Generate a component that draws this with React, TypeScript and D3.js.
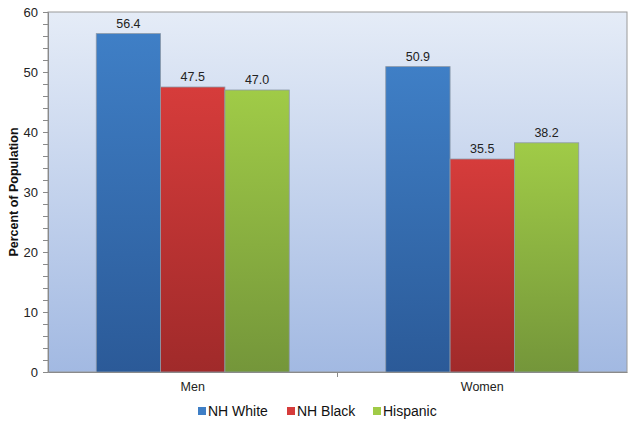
import * as d3 from "d3";
import { useEffect, useRef } from "react";

const categories = ["Men", "Women"];
const seriesNames = ["NH White", "NH Black", "Hispanic"];
const nhWhite = [56.4, 50.9];
const nhBlack = [47.5, 35.5];
const hispanic = [47.0, 38.2];
const yTicks = [0, 10, 20, 30, 40, 50, 60];

const seriesValues = [nhWhite, nhBlack, hispanic];
const colors = [
  ["#3f7fc6", "#2b5a98"],
  ["#d63c3b", "#a02a2a"],
  ["#a0cb47", "#74963a"],
];

export default function App() {
  const ref = useRef<SVGSVGElement>(null);
  const width = 636;
  const height = 428;
  const m = { left: 48, right: 9, top: 12, bottom: 56 };

  useEffect(() => {
    const svg = d3.select(ref.current);
    svg.selectAll("*").remove();
    const font = "'Liberation Sans', Arial, sans-serif";

    const defs = svg.append("defs");
    const bg = defs
      .append("linearGradient")
      .attr("id", "bg")
      .attr("x1", 0)
      .attr("y1", 0)
      .attr("x2", 0)
      .attr("y2", 1);
    bg.append("stop").attr("offset", "0%").attr("stop-color", "#e5ecf7");
    bg.append("stop").attr("offset", "100%").attr("stop-color", "#a2b9e2");
    colors.forEach((c, i) => {
      const g = defs
        .append("linearGradient")
        .attr("id", "bar" + i)
        .attr("x1", 0)
        .attr("y1", 0)
        .attr("x2", 0)
        .attr("y2", 1);
      g.append("stop").attr("offset", "0%").attr("stop-color", c[0]);
      g.append("stop").attr("offset", "100%").attr("stop-color", c[1]);
    });

    const x0 = d3
      .scaleBand()
      .domain(categories)
      .range([m.left, width - m.right]);
    const x1 = d3
      .scaleBand()
      .domain(seriesNames)
      .range([0, x0.bandwidth()])
      .paddingOuter(0.75);
    const y = d3
      .scaleLinear()
      .domain([0, 60])
      .range([height - m.bottom, m.top]);

    // plot background
    svg
      .append("rect")
      .attr("x", m.left)
      .attr("y", m.top)
      .attr("width", width - m.left - m.right)
      .attr("height", height - m.top - m.bottom)
      .attr("fill", "url(#bg)")
      .attr("stroke", "#9a9a9a")
      .attr("stroke-width", 1);

    // bars
    seriesNames.forEach((s, i) => {
      svg
        .append("g")
        .selectAll("rect")
        .data(seriesValues[i])
        .join("rect")
        .attr("x", (d, j) => x0(categories[j])! + x1(s)!)
        .attr("y", (d) => y(d))
        .attr("width", x1.bandwidth())
        .attr("height", (d) => y(0) - y(d))
        .attr("fill", "url(#bar" + i + ")")
        .attr("stroke", "#8d99a8")
        .attr("stroke-width", 0.8);

      svg
        .append("g")
        .selectAll("text")
        .data(seriesValues[i])
        .join("text")
        .attr("x", (d, j) => x0(categories[j])! + x1(s)! + x1.bandwidth() / 2)
        .attr("y", (d) => y(d) - 6)
        .attr("text-anchor", "middle")
        .attr("font-family", font)
        .attr("font-size", 12.5)
        .attr("fill", "#222")
        .text((d) => d3.format(".1f")(d));
    });

    // y axis
    const yAxis = svg
      .append("g")
      .attr("transform", `translate(${m.left},0)`)
      .call(
        d3
          .axisLeft(y)
          .tickValues(d3.range(0, 61, 2))
          .tickSize(5)
          .tickFormat((d) => (yTicks.includes(+d) ? String(d) : ""))
      );
    yAxis.select(".domain").attr("stroke", "#8a8a8a");
    yAxis.selectAll(".tick line").attr("stroke", "#8a8a8a");
    yAxis
      .selectAll(".tick text")
      .attr("font-family", font)
      .attr("font-size", 13)
      .attr("fill", "#222")
      .attr("x", -10);

    // x axis
    const xAxis = svg
      .append("g")
      .attr("transform", `translate(0,${height - m.bottom})`)
      .call(d3.axisBottom(x0).tickSize(0).tickPadding(10));
    xAxis.select(".domain").attr("stroke", "#8a8a8a");
    xAxis
      .selectAll(".tick text")
      .attr("font-family", font)
      .attr("font-size", 12.5)
      .attr("fill", "#222");
    svg
      .append("line")
      .attr("x1", x0("Women")!)
      .attr("x2", x0("Women")!)
      .attr("y1", height - m.bottom)
      .attr("y2", height - m.bottom + 5)
      .attr("stroke", "#8a8a8a");

    // y label
    svg
      .append("text")
      .attr("transform", `translate(18,${(m.top + height - m.bottom) / 2}) rotate(-90)`)
      .attr("text-anchor", "middle")
      .attr("font-family", font)
      .attr("font-size", 12.5)
      .attr("font-weight", "bold")
      .attr("fill", "#111")
      .text("Percent of Population");

    // legend
    const legendX = [198, 287, 373];
    const legend = svg
      .append("g")
      .selectAll("g")
      .data(seriesNames)
      .join("g")
      .attr("transform", (d, i) => `translate(${legendX[i]},411)`);
    legend
      .append("rect")
      .attr("x", 0)
      .attr("y", -4)
      .attr("width", 8)
      .attr("height", 8)
      .attr("fill", (d, i) => colors[i][0]);
    legend
      .append("text")
      .attr("x", 10)
      .attr("y", 5)
      .attr("font-family", font)
      .attr("font-size", 14)
      .attr("fill", "#111")
      .text((d) => d);
  }, []);

  return (
    <svg
      ref={ref}
      width={width}
      height={height}
      style={{ position: "absolute", left: 0, top: 0, background: "#fff" }}
    />
  );
}
